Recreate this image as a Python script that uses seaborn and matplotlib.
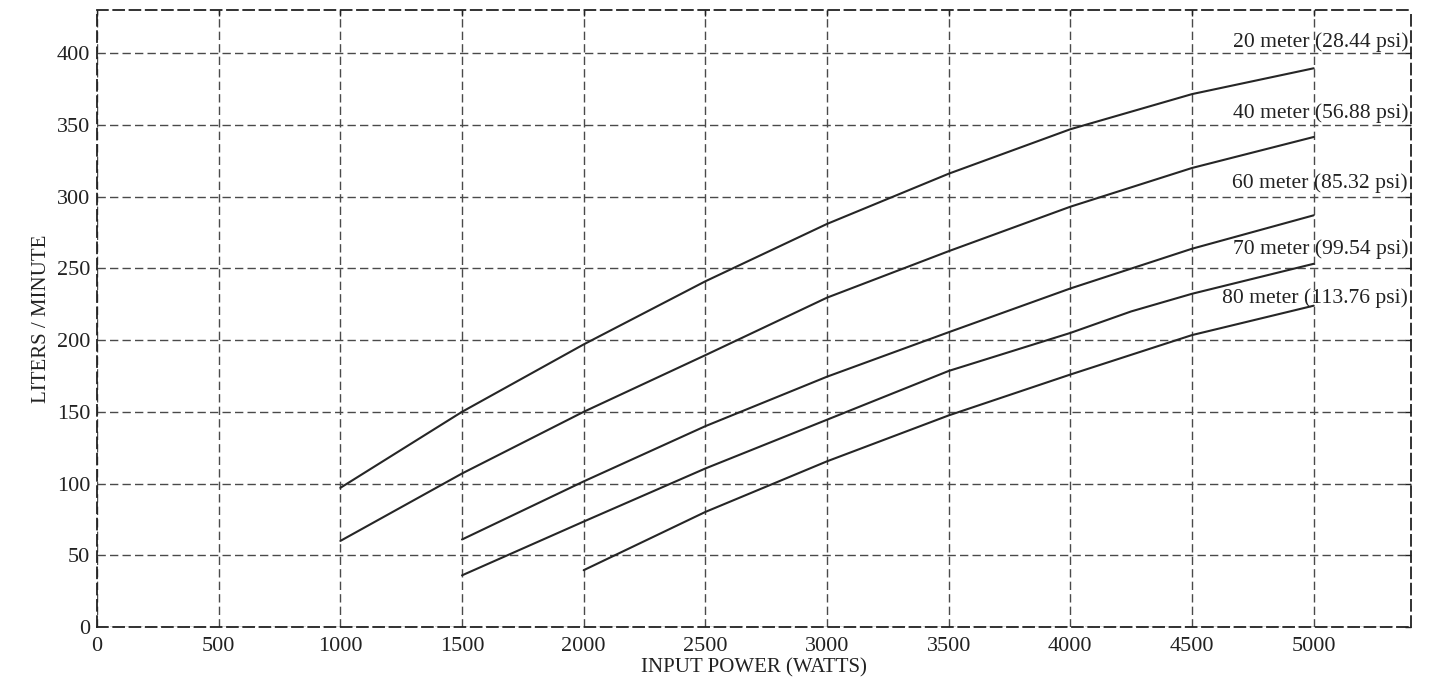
import matplotlib
matplotlib.use("Agg")
import matplotlib.pyplot as plt
import seaborn as sns

# data (input power in watts -> liters / minute)
x_20m = [1000, 1500, 2000, 2500, 3000, 3500, 4000, 4500, 5000]
y_20m = [97, 150, 197, 241, 281, 316, 347, 371.5, 389.5]

x_40m = [1000, 1500, 2000, 2500, 3000, 3500, 4000, 4500, 5000]
y_40m = [60, 107, 150, 189.5, 229.6, 262, 293, 320, 341.6]

x_60m = [1500, 2000, 2500, 3000, 3500, 4000, 4500, 5000]
y_60m = [61, 101.5, 140, 174.5, 205.5, 236, 263.7, 287]

x_70m = [1500, 2000, 2500, 3000, 3500, 4000, 4250, 4500, 5000]
y_70m = [36, 73.5, 110.5, 144.5, 178.5, 205, 220, 232.3, 253.2]

x_80m = [2000, 2500, 3000, 3500, 4000, 4500, 5000]
y_80m = [39.6, 80.2, 115.5, 147.5, 176, 203.5, 224]

labels = ["20 meter (28.44 psi)", "40 meter (56.88 psi)", "60 meter (85.32 psi)",
          "70 meter (99.54 psi)", "80 meter (113.76 psi)"]
label_y = [408, 358, 309.5, 263.5, 229]

x_ticks = list(range(0, 5001, 500))
y_ticks = list(range(0, 401, 50))

sns.set_style("white")
plt.rcParams['font.family'] = ['Liberation Serif', 'DejaVu Serif']
plt.rcParams['xtick.direction'] = 'in'
plt.rcParams['ytick.direction'] = 'in'

fig = plt.figure(figsize=(14.35, 6.79), dpi=100)
ax = fig.add_axes([0.0676, 0.0766, 0.9157, 0.9084])

for xs, ys in [(x_20m, y_20m), (x_40m, y_40m), (x_60m, y_60m),
               (x_70m, y_70m), (x_80m, y_80m)]:
    sns.lineplot(x=xs, y=ys, ax=ax, color="#262626", linewidth=1.5,
                 sort=False, estimator=None, zorder=3)

for text, yy in zip(labels, label_y):
    ax.text(5388, yy, text, ha="right", va="center", fontsize=15.6,
            color="#222222", zorder=4)

ax.set_xlim(0, 5400)
ax.set_ylim(0, 430)
ax.set_xticks(x_ticks)
ax.set_yticks(y_ticks)
ax.tick_params(labelsize=16, colors="#222222", length=4, width=1,
               top=True, right=True)
ax.tick_params(axis="x", pad=7)
ax.tick_params(axis="y", pad=5)
ax.grid(True, linestyle=(0, (6, 3)), color="#4a4a4a", linewidth=1)

for side in ax.spines.values():
    side.set_linestyle((0, (6, 3)))
    side.set_color("#222222")
    side.set_linewidth(1.3)

ax.set_xlabel("INPUT POWER (WATTS)", fontsize=15, labelpad=2, color="#222222")
ax.set_ylabel("LITERS / MINUTE", fontsize=15, labelpad=4, color="#222222")

fig.savefig("out.png", dpi=100)
